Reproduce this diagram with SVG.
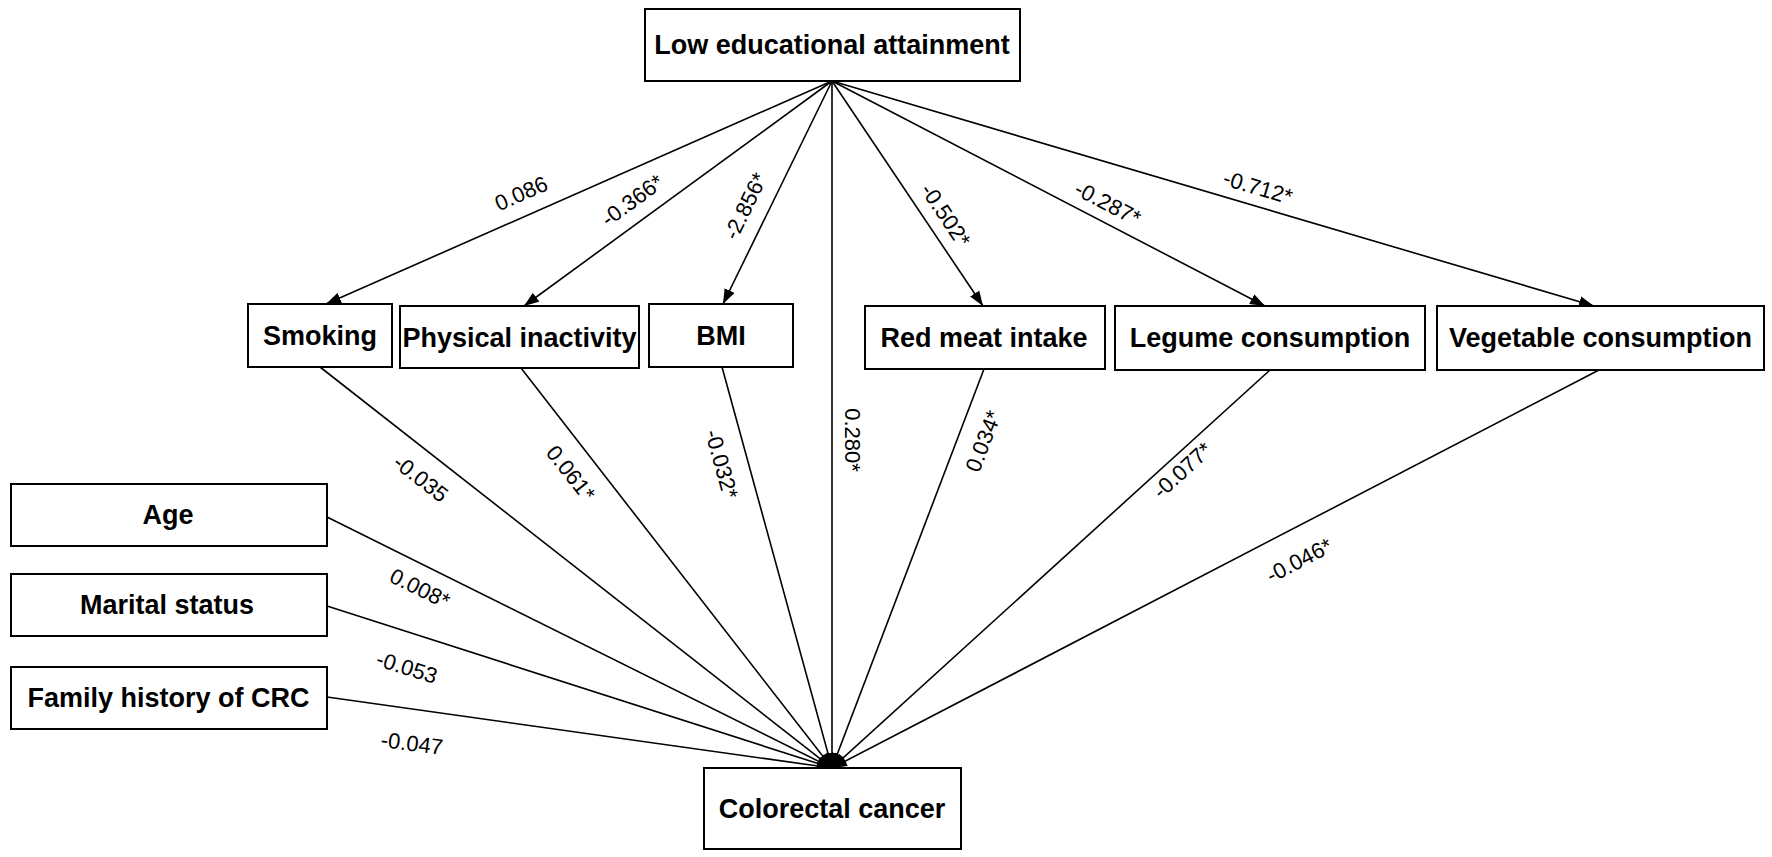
<svg xmlns="http://www.w3.org/2000/svg" width="1772" height="857" viewBox="0 0 1772 857">
<style>
.box{fill:#fff;stroke:#000;stroke-width:2}
.nt{font-family:"Liberation Sans",Arial,sans-serif;font-weight:bold;font-size:27px;fill:#000;text-anchor:middle}
.ln{stroke:#000;stroke-width:1.6;fill:none;marker-end:url(#ah)}
.lb{font-family:"Liberation Sans",Arial,sans-serif;font-size:22px;fill:#000;text-anchor:middle}
</style>
<defs>
<marker id="ah" markerUnits="userSpaceOnUse" markerWidth="16" markerHeight="12" refX="15" refY="6" orient="auto">
<path d="M0,0.5 L15,6 L0,11.5 z" fill="#000"/>
</marker>
</defs>
<rect width="1772" height="857" fill="#fff"/>
<g id="connectors">
<line class="ln" x1="832" y1="81" x2="326" y2="304"/>
<line class="ln" x1="832" y1="81" x2="524" y2="306"/>
<line class="ln" x1="832" y1="81" x2="723" y2="304"/>
<line class="ln" x1="832" y1="81" x2="832" y2="768"/>
<line class="ln" x1="832" y1="81" x2="983" y2="306"/>
<line class="ln" x1="832" y1="81" x2="1265" y2="306"/>
<line class="ln" x1="832" y1="81" x2="1594" y2="306"/>
<line class="ln" x1="320" y1="367" x2="832" y2="768"/>
<line class="ln" x1="521" y1="368" x2="832" y2="768"/>
<line class="ln" x1="722" y1="367" x2="832" y2="768"/>
<line class="ln" x1="984" y1="369" x2="832" y2="768"/>
<line class="ln" x1="1270" y1="370" x2="832" y2="768"/>
<line class="ln" x1="1599" y1="370" x2="832" y2="768"/>
<line class="ln" x1="327" y1="517" x2="832" y2="768"/>
<line class="ln" x1="327" y1="606" x2="832" y2="768"/>
<line class="ln" x1="327" y1="697" x2="832" y2="768"/>
<g id="edge-labels">
<text class="lb" transform="translate(521,193) rotate(-23.7)" y="8">0.086</text>
<text class="lb" transform="translate(632,200) rotate(-36.3)" y="8">-0.366*</text>
<text class="lb" transform="translate(745,206) rotate(-63.9)" y="8">-2.856*</text>
<text class="lb" transform="translate(946,215) rotate(56.1)" y="8">-0.502*</text>
<text class="lb" transform="translate(1108,203) rotate(27.5)" y="8">-0.287*</text>
<text class="lb" transform="translate(1258,187) rotate(16.5)" y="8">-0.712*</text>
<text class="lb" transform="translate(421,478) rotate(37.7)" y="8">-0.035</text>
<text class="lb" transform="translate(571,473) rotate(51.7)" y="8">0.061*</text>
<text class="lb" transform="translate(722,464) rotate(74.5)" y="8">-0.032*</text>
<text class="lb" transform="translate(853,440) rotate(90)" y="8">0.280*</text>
<text class="lb" transform="translate(983,441) rotate(-68.9)" y="8">0.034*</text>
<text class="lb" transform="translate(1182,470) rotate(-42.3)" y="8">-0.077*</text>
<text class="lb" transform="translate(1299,560) rotate(-27.4)" y="8">-0.046*</text>
<text class="lb" transform="translate(420,588) rotate(26)" y="8">0.008*</text>
<text class="lb" transform="translate(407,667) rotate(17.3)" y="8">-0.053</text>
<text class="lb" transform="translate(412,743) rotate(7.4)" y="8">-0.047</text>
</g>
</g>
<g id="n-low-edu"><rect class="box" x="645" y="9" width="375" height="72"/><text class="nt" x="832" y="54">Low educational attainment</text></g>
<g id="n-smoking"><rect class="box" x="248" y="304" width="144" height="63"/><text class="nt" x="320" y="344.5">Smoking</text></g>
<g id="n-physical"><rect class="box" x="400" y="306" width="239" height="62"/><text class="nt" x="519.5" y="346.5">Physical inactivity</text></g>
<g id="n-bmi"><rect class="box" x="649" y="304" width="144" height="63"/><text class="nt" x="721" y="344.5">BMI</text></g>
<g id="n-redmeat"><rect class="box" x="865" y="306" width="240" height="63"/><text class="nt" x="984" y="346.5">Red meat intake</text></g>
<g id="n-legume"><rect class="box" x="1115" y="306" width="310" height="64"/><text class="nt" x="1270" y="347">Legume consumption</text></g>
<g id="n-vegetable"><rect class="box" x="1437" y="306" width="327" height="64"/><text class="nt" x="1600.5" y="347">Vegetable consumption</text></g>
<g id="n-age"><rect class="box" x="11" y="484" width="316" height="62"/><text class="nt" x="168" y="523.5">Age</text></g>
<g id="n-marital"><rect class="box" x="11" y="574" width="316" height="62"/><text class="nt" x="167" y="614">Marital status</text></g>
<g id="n-family"><rect class="box" x="11" y="667" width="316" height="62"/><text class="nt" x="168.5" y="707">Family history of CRC</text></g>
<g id="n-crc"><rect class="box" x="704" y="768" width="257" height="81"/><text class="nt" x="832" y="817.5">Colorectal cancer</text></g>
</svg>
